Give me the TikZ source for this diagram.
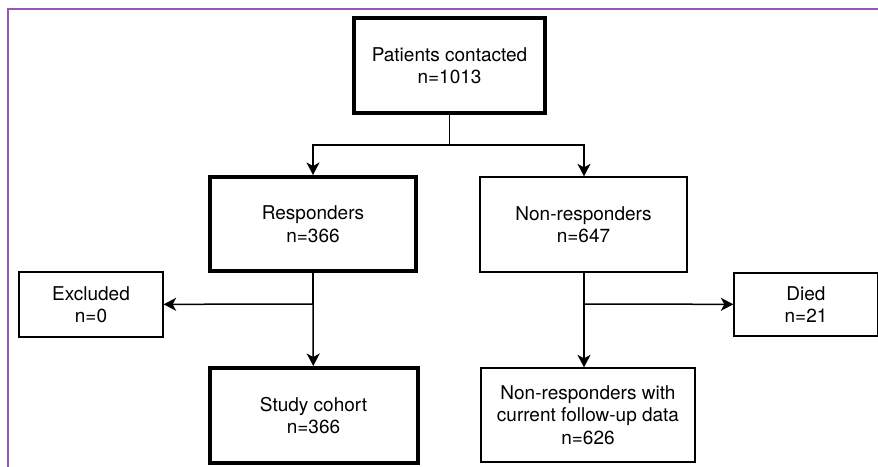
\documentclass[tikz,border=0pt]{standalone}
\usepackage{fontspec}
\setmainfont{TeX Gyre Heros}
\usetikzlibrary{arrows.meta}

\definecolor{framepurple}{RGB}{152,88,178}

\begin{document}
\begin{tikzpicture}[x=1pt, y=-1pt,
  every node/.style={rectangle, draw=black, inner sep=0pt, align=center,
    font=\fontsize{19}{22.5}\selectfont},
  heavybox/.style={line width=4pt},
  lightbox/.style={line width=1.3pt},
  link/.style={line width=1.5pt},
  flow/.style={line width=1.5pt, -{Stealth[length=12.5pt, width=13pt, inset=3.5pt]}}]

\useasboundingbox (0,0) rectangle (878,466);

% Outer frame (cut off at right and bottom)
\draw[framepurple, line width=1.6pt] (8,470) -- (8,9) -- (882,9);

% Main column nodes
\node[heavybox, minimum width=191pt, minimum height=95pt] (contacted) at (449.5,65.5) {Patients contacted\\n=1013};
\node[heavybox, minimum width=206pt, minimum height=94pt] (resp) at (313,224) {Responders\\n=366};
\node[lightbox, minimum width=207pt, minimum height=95pt] (nonresp) at (583.5,224.5) {Non-responders\\n=647};
\node[heavybox, minimum width=208pt, minimum height=95pt] (cohort) at (313.5,415.5) {Study cohort\\n=366};
\node[lightbox, minimum width=214pt, minimum height=94pt] (followup) at (588,415) {Non-responders with\\current follow-up data\\n=626};

% Side nodes
\node[lightbox, minimum width=144pt, minimum height=65pt] (excl) at (91,304.5) {Excluded\\n=0};
\node[lightbox, minimum width=144pt, minimum height=63pt] (died) at (806,304.5) {Died\\n=21};

% Junction points
\coordinate (split) at (449.5,145);
\coordinate (rjoin) at (313,304);
\coordinate (njoin) at (584,304);

% Top split
\draw[link] (contacted) -- (split);
\draw[flow] (split) -| (resp);
\draw[flow] (split) -| (nonresp.north -| njoin);

% Responders branch
\draw[link] (resp) -- (rjoin);
\draw[flow] (rjoin) -- (cohort);
\draw[flow] (rjoin) -- (excl);

% Non-responders branch
\draw[link] (nonresp.south -| njoin) -- (njoin);
\draw[flow] (njoin) -- (njoin |- followup.north);
\draw[flow] (njoin) -- (died);

\end{tikzpicture}
\end{document}
